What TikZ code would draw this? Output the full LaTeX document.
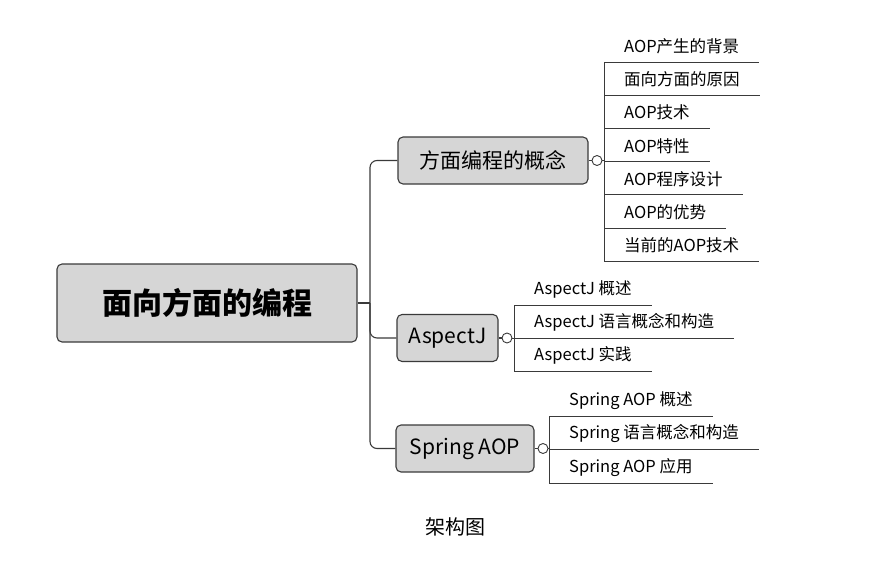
\documentclass[tikz,border=0pt]{standalone}
\usepackage{fontspec}
\setmainfont{Noto Sans CJK SC}
\usetikzlibrary{positioning}
\definecolor{cBox} {HTML}{D6D6D6}
\definecolor{cLine}{HTML}{3A3A3A}
\tikzset{
  topic/.style ={draw=cLine,fill=cBox,line width=1.1pt,rounded corners=5pt,
                 inner sep=0pt,align=center},
  root/.style  ={topic,minimum width=300pt,minimum height=78pt,
                 font=\fontsize{30}{34}\selectfont\bfseries},
  sub/.style   ={topic,minimum height=47pt,font=\fontsize{21}{24}\selectfont},
  knob/.style  ={circle,draw=cLine,fill=white,line width=0.9pt,
                 minimum size=10pt,inner sep=0pt},
  leaf/.style  ={anchor=south west,inner xsep=20pt,inner ysep=0pt,
                 minimum height=31pt,font=\fontsize{16.5}{19}\selectfont},
  link/.style  ={draw=cLine,line width=1.1pt},
  uline/.style ={draw=cLine,line width=0.9pt},
}

\begin{document}
\begin{tikzpicture}[x=1pt, y=-1pt]
\useasboundingbox (0,0) rectangle (880,586);

% ===== central topic and main branches =====================================
\node[root] (root) at (207,303) {面向方面的编程};
\node[sub,minimum width=190pt] (concept) at (493,160.5) {方面编程的概念};
\node[sub,minimum width=101pt] (aspectj) at (447.5,338) {AspectJ};
\node[sub,minimum width=138pt] (spring)  at (465,448.5) {Spring AOP};

\coordinate (trunk) at (370,303);
\draw[link] (root.east) -- (trunk);
\draw[link,rounded corners=7pt] (concept.west) -| (trunk) |- (spring.west);
\draw[link,rounded corners=7pt] (trunk) |- (aspectj.west);

\foreach \n in {concept,aspectj,spring}{
  \node[knob,right=3pt of \n] (\n knob) {};
  \draw[link] (\n.east) -- (\n knob.west);
}

% ===== leaves ==============================================================
\foreach \txt [count=\i] in {AOP产生的背景,面向方面的原因,AOP技术,AOP特性,
                             AOP程序设计,AOP的优势,当前的AOP技术}{%
  \pgfmathsetmacro\y{62+33.2*(\i-1)}
  \node[leaf] (concept\i) at (604,\y) {\txt};
}
\foreach \txt [count=\i] in {AspectJ 概述,AspectJ 语言概念和构造,AspectJ 实践}{%
  \pgfmathsetmacro\y{305+33*(\i-1)}
  \node[leaf] (aspectj\i) at (514,\y) {\txt};
}
\foreach \txt [count=\i] in {Spring AOP 概述,Spring 语言概念和构造,Spring AOP 应用}{%
  \pgfmathsetmacro\y{416+33.5*(\i-1)}
  \node[leaf] (spring\i) at (549,\y) {\txt};
}

\foreach \g/\n in {concept/7,aspectj/3,spring/3}{
  \foreach \i in {1,...,\n}{\draw[uline] (\g\i.south west) -- (\g\i.south east);}
  \draw[uline] (\g1.south west) -- (\g\n.south west);
  \draw[uline] (\g knob.east) -- (\g knob.east -| \g1.south west);
}

\node[font=\fontsize{20}{24}\selectfont] (caption) at (455,527) {架构图};
\end{tikzpicture}
\end{document}
